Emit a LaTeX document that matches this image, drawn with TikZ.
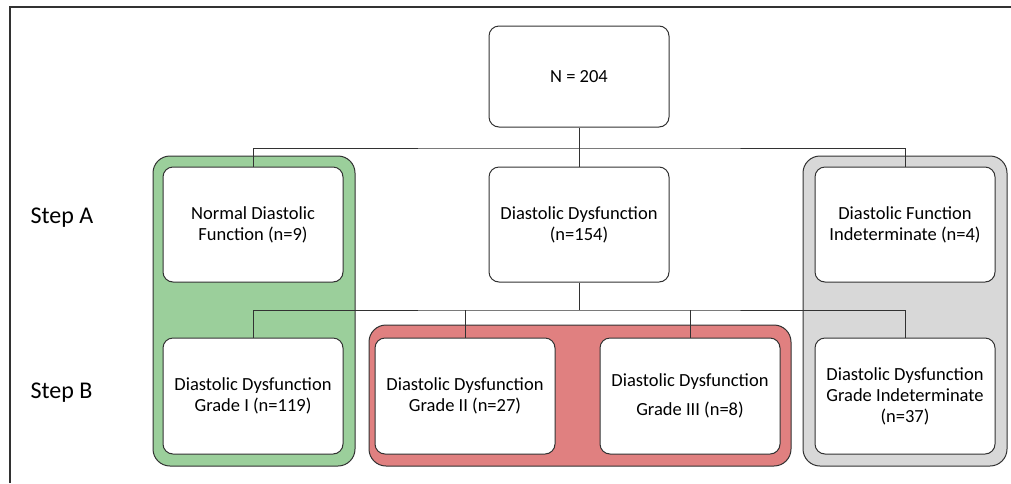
\documentclass[tikz,border=0pt]{standalone}
\usepackage{fontspec}
\setmainfont{Carlito}
\usepackage{xcolor}
\usepackage{tikz}
\usetikzlibrary{positioning}

\definecolor{grpgreen}{RGB}{155,207,155}
\definecolor{grpred}{RGB}{224,128,128}
\definecolor{grpgray}{RGB}{216,216,216}
\definecolor{edge}{RGB}{50,50,50}

\tikzset{
  stage/.style={draw=edge, line width=1pt, rounded corners=10pt, fill=white,
    minimum width=180pt, minimum height=115pt, align=center, inner sep=2pt,
    font=\fontsize{18.5}{21}\selectfont},
  group/.style={draw=edge, line width=1pt, rounded corners=17pt},
  link/.style={draw=edge, line width=1pt},
  steplabel/.style={anchor=west, font=\fontsize{24}{28}\selectfont}
}

\begin{document}
\begin{tikzpicture}[x=1pt, y=-1pt]
            \useasboundingbox (0,0) rectangle (1011,483);
            % Frame
            \draw[line width=2pt, edge] (10,483) -- (10,7) -- (1011,7);

            % Groups
            \draw[group, fill=grpgreen] (153,156) rectangle (355,466);
            \draw[group, fill=grpred] (369,325) rectangle (791,466);
            \draw[group, fill=grpgray] (803,156) rectangle (1007,466);

            % Nodes
            \node[stage, minimum height=101pt] (total) at (579,76.5) {N = 204};
            \node[stage] (normal) at (253,224.5) {Normal Diastolic\\Function (n=9)};
            \node[stage] (dysf) at (579,224.5) {Diastolic Dysfunction\\(n=154)};
            \node[stage] (indet) at (905,224.5) {Diastolic Function\\Indeterminate (n=4)};
            \node[stage, minimum height=116pt] (gradeI) at (253,396) {Diastolic Dysfunction\\Grade I (n=119)};
            \node[stage, minimum height=116pt] (gradeII) at (465,396) {Diastolic Dysfunction\\Grade II (n=27)};
            \node[stage, minimum height=116pt] (gradeIII) at (690,396) {Diastolic Dysfunction\\[8pt]Grade III (n=8)};
            \node[stage, minimum height=116pt] (gradeX) at (905,396) {Diastolic Dysfunction\\Grade Indeterminate\\(n=37)};

            \node[steplabel] (stepA) at (27,218) {Step A};
            \node[steplabel] (stepB) at (27,393) {Step B};

            % Junctions
            \coordinate (splitA) at (579,148);
            \coordinate (splitB) at (579,310);

            % Links
            \draw[link] (total) -- (dysf);
            \draw[link] (normal.north) |- (splitA) -| (indet.north);
            \draw[link] (dysf) -- (splitB);
            \draw[link] (gradeI.north) |- (splitB) -| (gradeX.north);
            \draw[link] (gradeII.north) -- (gradeII.north |- splitB);
            \draw[link] (gradeIII.north) -- (gradeIII.north |- splitB);
            \end{tikzpicture}
\end{document}
